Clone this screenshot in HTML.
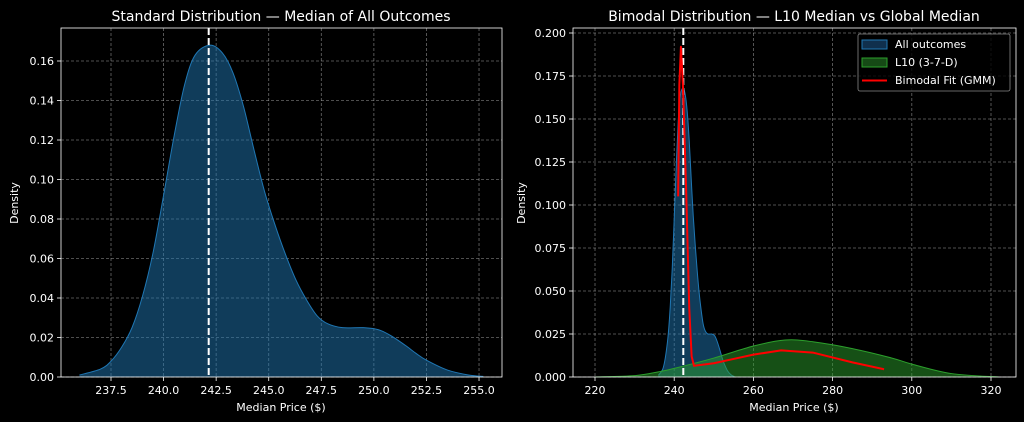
<!DOCTYPE html>
<html><head><meta charset="utf-8"><style>
html,body{margin:0;padding:0;background:#000;}
svg{display:block;font-family:"DejaVu Sans","Liberation Sans",sans-serif;}
</style></head><body>
<svg id="s" width="1024" height="422" xmlns="http://www.w3.org/2000/svg">
<rect width="1024" height="422" fill="#000"/>
<g id="g"></g>
</svg>
<script>
const NS="http://www.w3.org/2000/svg";const G=document.getElementById('g');
function el(t,a,txt){const e=document.createElementNS(NS,t);for(const k in a)e.setAttribute(k,a[k]);if(txt!==undefined)e.textContent=txt;G.appendChild(e);return e;}
function smooth(p){let d=`M${p[0][0]},${p[0][1]}`;for(let i=0;i<p.length-1;i++){const p0=p[i-1]||p[i],p1=p[i],p2=p[i+1],p3=p[i+2]||p2;
d+=` C${p1[0]+(p2[0]-p0[0])/6},${p1[1]+(p2[1]-p0[1])/6} ${p2[0]-(p3[0]-p1[0])/6},${p2[1]-(p3[1]-p1[1])/6} ${p2[0]},${p2[1]}`;}return d;}
const blue=[[236,0.001],[237,0.004],[237.5,0.008],[238,0.015],[238.5,0.025],[239,0.041],[239.5,0.063],[240,0.092],[240.5,0.122],[241,0.148],[241.5,0.163],[242.2,0.168],[242.8,0.164],[243.3,0.154],[243.8,0.137],[244.3,0.115],[244.8,0.094],[245.3,0.077],[245.8,0.062],[246.3,0.049],[246.8,0.039],[247.3,0.031],[247.8,0.027],[248.5,0.025],[249.5,0.025],[250.2,0.024],[250.8,0.021],[251.5,0.016],[252,0.012],[252.5,0.0085],[253.5,0.0035],[254.5,0.001],[255.2,0.0003]];
function axes(o){
 const X=v=>o.x0+(v-o.xa)*o.xs, Y=v=>o.y0-(v)*o.ys;
 o.xt.forEach(t=>{el('line',{x1:X(t),x2:X(t),y1:o.top,y2:o.y0,stroke:'#b0b0b0','stroke-opacity':0.6,'stroke-dasharray':'3,2','stroke-width':0.8});
  el('line',{x1:X(t),x2:X(t),y1:o.y0,y2:o.y0+4,stroke:'#fff','stroke-width':0.8});
  el('text',{x:X(t),y:o.y0+17,fill:'#fff','font-size':11,'text-anchor':'middle'},o.xf(t));});
 o.yt.forEach(t=>{el('line',{x1:o.L,x2:o.R,y1:Y(t),y2:Y(t),stroke:'#b0b0b0','stroke-opacity':0.6,'stroke-dasharray':'3,2','stroke-width':0.8});
  el('line',{x1:o.L-4,x2:o.L,y1:Y(t),y2:Y(t),stroke:'#fff','stroke-width':0.8});
  el('text',{x:o.L-7,y:Y(t)+4,fill:'#fff','font-size':11,'text-anchor':'end'},o.yf(t));});
 return [X,Y];
}
function frame(o){el('rect',{x:o.L,y:o.top,width:o.R-o.L,height:o.y0-o.top,fill:'none',stroke:'#fff','stroke-width':0.8});}
function area(pts,X,Y,fill,op,stroke){const p=pts.map(q=>[X(q[0]),Y(q[1])]);const d=smooth(p);
 el('path',{d:d+` L${p[p.length-1][0]},${Y(0)} L${p[0][0]},${Y(0)} Z`,fill:fill,'fill-opacity':op});
 el('path',{d:d,fill:'none',stroke:stroke,'stroke-width':1});}
let o1={L:61,R:502,top:28,y0:377,x0:111,xa:237.5,xs:21.03,ys:1975,xt:[237.5,240,242.5,245,247.5,250,252.5,255],yt:[0,.02,.04,.06,.08,.1,.12,.14,.16],xf:t=>t.toFixed(1),yf:t=>t.toFixed(2)};
let [X1,Y1]=axes(o1);
area(blue,X1,Y1,'#1f77b4',0.5,'#1f77b4');
el('line',{x1:208.7,x2:208.7,y1:28,y2:377,stroke:'#fff','stroke-width':2,'stroke-dasharray':'7,3'});
frame(o1);
el('text',{x:281,y:21,fill:'#fff','font-size':14,'text-anchor':'middle'},'Standard Distribution — Median of All Outcomes');
el('text',{x:281,y:411,fill:'#fff','font-size':11,'text-anchor':'middle'},'Median Price ($)');
el('text',{x:18,y:203,fill:'#fff','font-size':11,'text-anchor':'middle',transform:'rotate(-90 18 203)'},'Density');
let o2={L:573,R:1016,top:28,y0:377,x0:595,xa:220,xs:3.96,ys:1720,xt:[220,240,260,280,300,320],yt:[0,.025,.05,.075,.1,.125,.15,.175,.2],xf:t=>t,yf:t=>t.toFixed(3)};
let [X2,Y2]=axes(o2);
area(blue,X2,Y2,'#1f77b4',0.5,'#1f77b4');
const green=[[220,0],[230,0.0008],[236,0.003],[240,0.005],[250,0.011],[260,0.018],[268,0.0215],[275,0.0205],[285,0.0165],[295,0.011],[300,0.0075],[310,0.002],[322,0]];
area(green,X2,Y2,'#2ca02c',0.5,'#2ca02c');
el('line',{x1:683.3,x2:683.3,y1:28,y2:377,stroke:'#fff','stroke-width':2,'stroke-dasharray':'7,3'});
const red=[[241,0.105],[241.3,0.17],[241.7,0.192],[242.2,0.17],[243,0.11],[243.8,0.04],[244.4,0.012],[245,0.0065],[250,0.008],[255,0.0105],[260,0.013],[267,0.0155],[275,0.0142],[285,0.0085],[293,0.0045]];
el('path',{d:'M'+red.map(q=>X2(q[0])+','+Y2(q[1])).join(' L'),fill:'none',stroke:'#ff0000','stroke-width':2,'stroke-linejoin':'round'});
frame(o2);
el('text',{x:794,y:21,fill:'#fff','font-size':14,'text-anchor':'middle'},'Bimodal Distribution — L10 Median vs Global Median');
el('text',{x:794,y:411,fill:'#fff','font-size':11,'text-anchor':'middle'},'Median Price ($)');
el('text',{x:525,y:203,fill:'#fff','font-size':11,'text-anchor':'middle',transform:'rotate(-90 525 203)'},'Density');
el('rect',{x:858,y:34,width:152,height:57,rx:2,fill:'#000','fill-opacity':0.8,stroke:'#888','stroke-width':0.8});
el('rect',{x:862,y:40,width:25,height:9,fill:'#10304d',stroke:'#1f77b4'});
el('rect',{x:862,y:58,width:25,height:9,fill:'#164a16',stroke:'#2ca02c'});
el('line',{x1:862,x2:887,y1:80.5,y2:80.5,stroke:'#ff0000','stroke-width':2});
el('text',{x:895,y:48,fill:'#fff','font-size':11},'All outcomes');
el('text',{x:895,y:66,fill:'#fff','font-size':11},'L10 (3-7-D)');
el('text',{x:895,y:84,fill:'#fff','font-size':11},'Bimodal Fit (GMM)');
</script>
</body></html>
